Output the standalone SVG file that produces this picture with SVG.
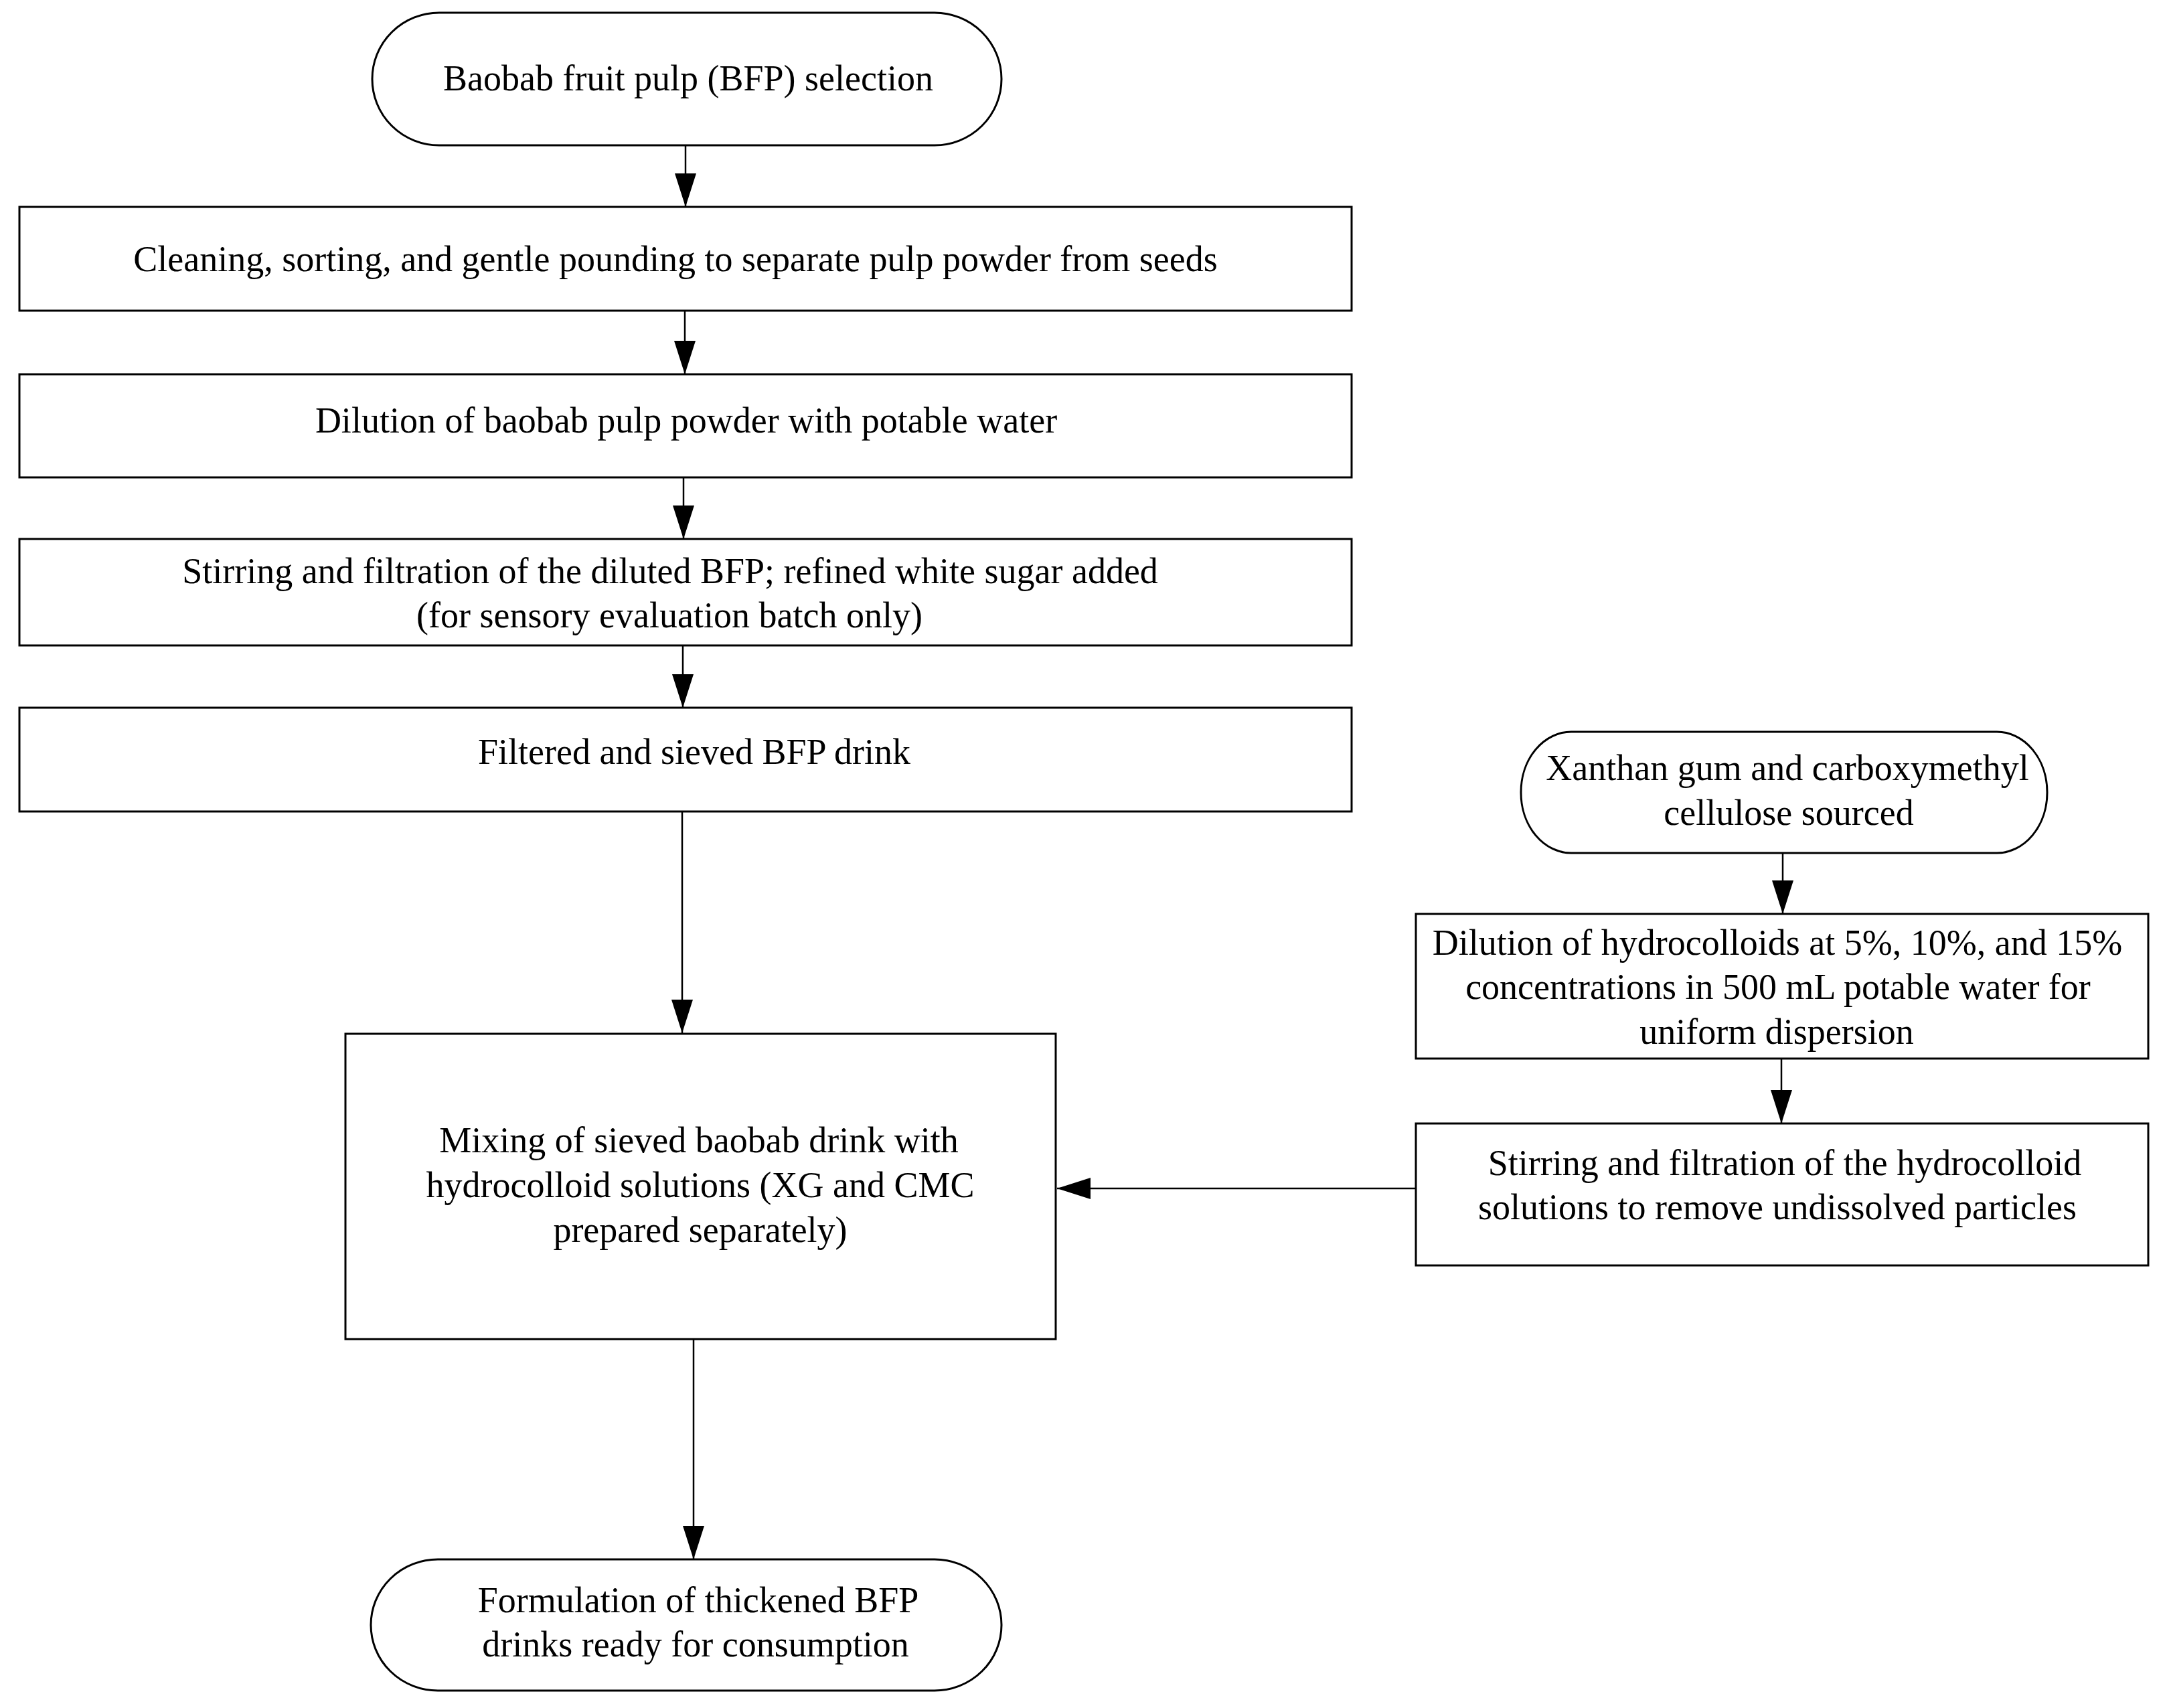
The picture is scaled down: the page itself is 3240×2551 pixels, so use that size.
<svg xmlns="http://www.w3.org/2000/svg" width="3240" height="2551" viewBox="0 0 3240 2551">
<style>
.n{fill:#fff;stroke:#000;stroke-width:3}
.t{font-family:"Liberation Serif","Times New Roman",serif;font-size:54px;fill:#000;text-anchor:middle}
.c{stroke:#000;stroke-width:2.5;fill:none;marker-end:url(#ah)}
</style>
<defs>
<marker id="ah" markerUnits="userSpaceOnUse" markerWidth="52" markerHeight="34" refX="50" refY="16" orient="auto">
<path d="M0,0 L50,16 L0,32 Z" fill="#000"/>
</marker>
</defs>
<rect width="3240" height="2551" fill="#fff"/>
<g id="connectors">
<line class="c" x1="1024" y1="217" x2="1024" y2="309"/>
<line class="c" x1="1023" y1="464" x2="1023" y2="559"/>
<line class="c" x1="1021" y1="713" x2="1021" y2="805"/>
<line class="c" x1="1020" y1="964" x2="1020" y2="1057"/>
<line class="c" x1="1019" y1="1212" x2="1019" y2="1543"/>
<line class="c" x1="1036" y1="2000" x2="1036" y2="2329"/>
<line class="c" x1="2663" y1="1274" x2="2663" y2="1365"/>
<line class="c" x1="2661" y1="1581" x2="2661" y2="1678"/>
<line class="c" x1="2115" y1="1775" x2="1579" y2="1775"/>
</g>
<g id="start">
<rect class="n" x="556" y="19" width="940" height="198" rx="100" ry="99"/>
<text class="t" x="1028" y="135">Baobab fruit pulp (BFP) selection</text>
</g>
<g id="clean">
<rect class="n" x="29" y="309" width="1990" height="155"/>
<text class="t" x="1009" y="405">Cleaning, sorting, and gentle pounding to separate pulp powder from seeds</text>
</g>
<g id="dilute">
<rect class="n" x="29" y="559" width="1990" height="154"/>
<text class="t" x="1025" y="646">Dilution of baobab pulp powder with potable water</text>
</g>
<g id="stir">
<rect class="n" x="29" y="805" width="1990" height="159"/>
<text class="t" x="1001" y="871">Stirring and filtration of the diluted BFP; refined white sugar added</text>
<text class="t" x="1000" y="937">(for sensory evaluation batch only)</text>
</g>
<g id="filtered">
<rect class="n" x="29" y="1057" width="1990" height="155"/>
<text class="t" x="1037" y="1141">Filtered and sieved BFP drink</text>
</g>
<g id="mixing">
<rect class="n" x="516" y="1544" width="1061" height="456"/>
<text class="t" x="1044" y="1721">Mixing of sieved baobab drink with</text>
<text class="t" x="1046" y="1788">hydrocolloid solutions (XG and CMC</text>
<text class="t" x="1046" y="1855">prepared separately)</text>
</g>
<g id="final">
<rect class="n" x="554" y="2329" width="942" height="196" rx="100" ry="98"/>
<text class="t" x="1043" y="2408">Formulation of thickened BFP</text>
<text class="t" x="1039" y="2474">drinks ready for consumption</text>
</g>
<g id="xanthan">
<rect class="n" x="2272" y="1093" width="786" height="181" rx="75" ry="90"/>
<text class="t" x="2670" y="1165">Xanthan gum and carboxymethyl</text>
<text class="t" x="2672" y="1232">cellulose sourced</text>
</g>
<g id="hydro-dilution">
<rect class="n" x="2115" y="1365" width="1094" height="216"/>
<text class="t" x="2655" y="1426">Dilution of hydrocolloids at 5%, 10%, and 15%</text>
<text class="t" x="2656" y="1492">concentrations in 500 mL potable water for</text>
<text class="t" x="2654" y="1559">uniform dispersion</text>
</g>
<g id="hydro-stir">
<rect class="n" x="2115" y="1678" width="1094" height="212"/>
<text class="t" x="2666" y="1755">Stirring and filtration of the hydrocolloid</text>
<text class="t" x="2655" y="1821">solutions to remove undissolved particles</text>
</g>
</svg>
